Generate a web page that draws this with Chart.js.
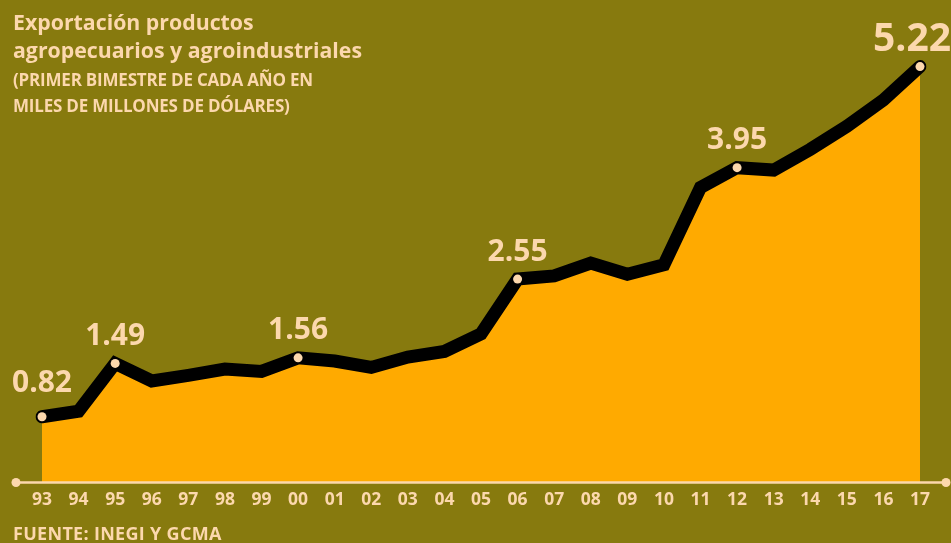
<!DOCTYPE html>
<html lang="es">
<head>
<meta charset="utf-8">
<title>Exportación productos agropecuarios y agroindustriales</title>
<script src="https://cdn.jsdelivr.net/npm/chart.js@4.4.1/dist/chart.umd.min.js"></script>
<style>
  html, body { margin: 0; padding: 0; background: #877a0e; }
  #wrap { position: relative; width: 951px; height: 543px; overflow: hidden; }
  #exportChart { position: absolute; left: 0; top: 0; }
  .txt { position: absolute; color: #fcd8ad; font-family: "Open Sans", Lato, sans-serif; font-weight: 700; white-space: nowrap; }
  #title { left: 13px; top: 8px; font-size: 21.3px; line-height: 28px; }
  #subtitle { left: 13px; top: 67px; font-size: 17px; line-height: 26px; letter-spacing: -0.2px; }
  #source { left: 13px; top: 522px; font-size: 18px; line-height: 22px; letter-spacing: 0.3px; }
</style>
</head>
<body>
<div id="wrap">
  <canvas id="exportChart" width="951" height="543"></canvas>
  <div class="txt" id="title">Exportación productos<br>agropecuarios y agroindustriales</div>
  <div class="txt" id="subtitle">(PRIMER BIMESTRE DE CADA AÑO EN<br>MILES DE MILLONES DE DÓLARES)</div>
  <div class="txt" id="source">FUENTE: INEGI Y GCMA</div>
</div>
<script>
/* Exportación agroalimentaria – primer bimestre, miles de millones USD */

const years = ['93', '94', '95', '96', '97', '98', '99', '00', '01', '02', '03', '04',
               '05', '06', '07', '08', '09', '10', '11', '12', '13', '14', '15', '16', '17'];

const exportValues = [0.82, 0.89, 1.49, 1.27, 1.34, 1.42, 1.39, 1.56, 1.52, 1.44, 1.57, 1.64,
                      1.86, 2.55, 2.59, 2.75, 2.61, 2.73, 3.70, 3.95, 3.92, 4.18, 4.47, 4.80, 5.22];

// years that get a dot and a value label
const labeledYears = ['93', '95', '00', '06', '12', '17'];

const CREAM = '#fcd8ad';
const ORANGE = '#ffaa00';
const FONT = '"Open Sans", Lato, sans-serif';

const valueLabelsPlugin = {
    id: 'valueLabels',
    afterDatasetsDraw(chart) {
        const { ctx } = chart;
        const meta = chart.getDatasetMeta(0);
        ctx.save();
        ctx.fillStyle = CREAM;
        ctx.textAlign = 'center';
        ctx.textBaseline = 'middle';
        labeledYears.forEach(yr => {
            const i = years.indexOf(yr);
            const pt = meta.data[i];
            const last = i === years.length - 1;
            ctx.font = (last ? 'bold 39px ' : 'bold 30px ') + FONT;
            const txt = exportValues[i].toFixed(2);
            let x = pt.x;
            if (last) x = Math.min(x, chart.width - ctx.measureText(txt).width / 2);
            // first label sits a bit higher above its dot
            const lift = i === 0 ? 33 : 27;
            ctx.fillText(txt, x, pt.y - lift);
        });
        ctx.restore();
    }
};

const baselinePlugin = {
    id: 'baseline',
    afterDatasetsDraw(chart) {
        const { ctx, chartArea: { left, right }, scales: { y } } = chart;
        const yy = Math.round(y.getPixelForValue(0)) + 0.5;
        const x0 = left - 26, x1 = right + 26;
        ctx.save();
        ctx.strokeStyle = CREAM;
        ctx.fillStyle = CREAM;
        ctx.lineWidth = 2.5;
        ctx.beginPath();
        ctx.moveTo(x0, yy);
        ctx.lineTo(x1, yy);
        ctx.stroke();
        [x0, x1].forEach(x => {
            ctx.beginPath();
            ctx.arc(x, yy, 4.5, 0, Math.PI * 2);
            ctx.fill();
        });
        ctx.restore();
    }
};

const ctx = document.getElementById('exportChart').getContext('2d');

new Chart(ctx, {
    type: 'line',
    data: {
        labels: years,
        datasets: [{
            data: exportValues,
            borderColor: '#000000',
            backgroundColor: ORANGE,
            borderWidth: 13,
            borderCapStyle: 'round',
            borderJoinStyle: 'miter',
            fill: 'origin',
            tension: 0,
            pointRadius: years.map(y => labeledYears.includes(y) ? 4.5 : 0),
            pointBackgroundColor: CREAM,
            pointBorderWidth: 0,
            pointBorderColor: CREAM
        }]
    },
    options: {
        responsive: false,
        animation: false,
        events: [],
        layout: { padding: { left: 42, right: 31, top: 0, bottom: 24 } },
        plugins: {
            legend: { display: false },
            tooltip: { enabled: false }
        },
        scales: {
            x: {
                offset: false,
                grid: { display: false, drawTicks: false },
                border: { display: false },
                ticks: {
                    color: CREAM,
                    padding: 8,
                    font: { family: FONT, size: 17.5, weight: 'bold' },
                    maxRotation: 0,
                    autoSkip: false
                }
            },
            y: {
                display: false,
                min: 0,
                max: 6
            }
        }
    },
    plugins: [baselinePlugin, valueLabelsPlugin]
});
</script>
</body>
</html>
